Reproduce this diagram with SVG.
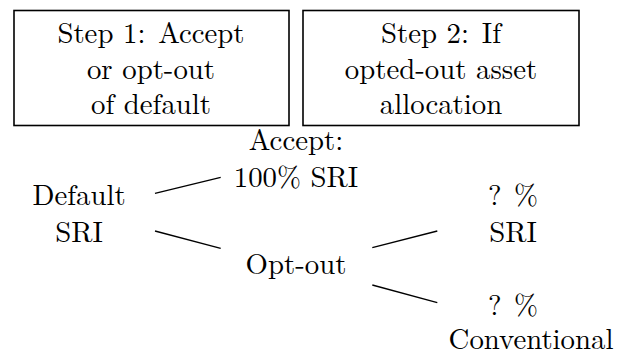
<svg xmlns="http://www.w3.org/2000/svg" width="628" height="353" viewBox="0 0 628 353">
<style>
text{font-size:28.8px;fill:#000;text-anchor:middle}
.box{fill:#fff;stroke:#000;stroke-width:1.6}
.edge{stroke:#000;stroke-width:1.3;fill:none}
</style>
<rect width="628" height="353" fill="#fff"/>
<g font-family="Latin Modern Roman, Liberation Serif, serif">
<g id="step1">
<rect class="box" x="14" y="10.5" width="275" height="115"/>
<text x="151" y="43">Step 1: <tspan dx="3.2">Accept</tspan></text>
<text x="151" y="79">or opt-out</text>
<text x="151" y="114">of default</text>
</g>
<g id="step2">
<rect class="box" x="303" y="10.5" width="276" height="115"/>
<text x="441" y="43">Step 2: <tspan dx="3.2">If</tspan></text>
<text x="441" y="79">opted-out asset</text>
<text x="441" y="114">allocation</text>
</g>
<g id="default">
<text x="79" y="205">Default</text>
<text x="79" y="242">SRI</text>
</g>
<g id="accept">
<text x="296" y="150">Accept:</text>
<text x="296" y="187">100% SRI</text>
</g>
<g id="optout">
<text x="296" y="274">Opt-out</text>
</g>
<g id="sri">
<text x="513" y="205">? <tspan dx="3">%</tspan></text>
<text x="513" y="242">SRI</text>
</g>
<g id="conventional">
<text x="513" y="315">? <tspan dx="3">%</tspan></text>
<text x="531" y="349">Conventional</text>
</g>
</g>
<g id="connectors">
<line class="edge" x1="155" y1="193.3" x2="220.7" y2="177.3"/>
<line class="edge" x1="155" y1="231" x2="220.7" y2="248.3"/>
<line class="edge" x1="372.3" y1="247.7" x2="437.3" y2="231"/>
<line class="edge" x1="372.3" y1="285" x2="437.3" y2="302.7"/>
</g>
</svg>
